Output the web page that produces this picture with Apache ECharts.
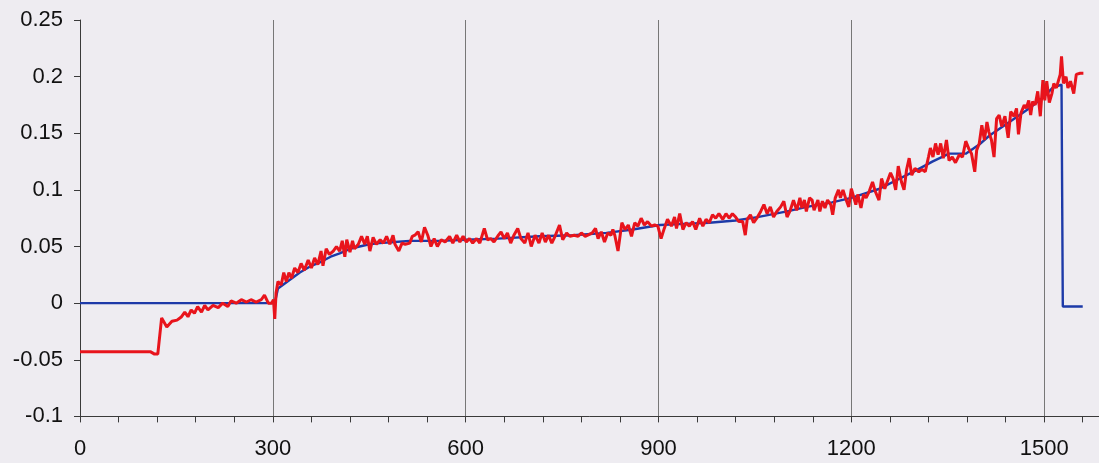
<!DOCTYPE html>
<html><head><meta charset="utf-8">
<script src="https://cdn.jsdelivr.net/npm/echarts@6/dist/echarts.min.js"></script>
<style>html,body{margin:0;padding:0;background:#eeecf1}#c{width:1099px;height:463px}</style>
</head><body><div id="c"></div>
<script>
const redPoints = [[0,-0.043],[110,-0.043],[116,-0.045],[121,-0.045],[127,-0.013],[135,-0.021],[143,-0.016],[151,-0.015],[158,-0.012],[163,-0.008],[168,-0.012],[173,-0.006],[178,-0.009],[183,-0.003],[189,-0.008],[194,-0.002],[199,-0.006],[207,-0.002],[215,-0.004],[222,0.000],[230,-0.003],[235,0.002],[243,0.000],[251,0.003],[259,0.001],[266,0.003],[274,0.001],[282,0.003],[287,0.007],[293,0.000],[298,0.000],[301,0.003],[303,-0.014],[305,0.009],[308,0.019],[313,0.016],[317,0.027],[321,0.019],[325,0.027],[329,0.022],[334,0.031],[339,0.027],[344,0.035],[349,0.029],[355,0.038],[360,0.031],[365,0.040],[370,0.034],[375,0.046],[378,0.033],[383,0.048],[388,0.043],[394,0.046],[399,0.050],[404,0.046],[408,0.055],[412,0.041],[415,0.056],[420,0.045],[424,0.055],[427,0.048],[433,0.052],[438,0.059],[443,0.052],[447,0.059],[451,0.046],[456,0.058],[461,0.052],[467,0.056],[472,0.053],[477,0.059],[482,0.052],[487,0.060],[490,0.052],[496,0.046],[501,0.053],[506,0.052],[513,0.053],[517,0.059],[521,0.060],[526,0.063],[531,0.054],[536,0.067],[541,0.060],[546,0.050],[551,0.057],[556,0.050],[562,0.056],[568,0.054],[575,0.059],[580,0.053],[586,0.060],[591,0.054],[596,0.059],[601,0.054],[606,0.057],[611,0.053],[617,0.057],[622,0.053],[629,0.066],[634,0.056],[639,0.057],[644,0.054],[651,0.060],[655,0.063],[660,0.057],[665,0.062],[670,0.053],[675,0.060],[681,0.066],[686,0.057],[692,0.053],[697,0.062],[702,0.050],[708,0.060],[714,0.053],[719,0.062],[724,0.054],[729,0.060],[734,0.053],[739,0.059],[746,0.069],[751,0.056],[757,0.062],[762,0.059],[769,0.060],[775,0.059],[780,0.062],[786,0.059],[790,0.060],[797,0.062],[802,0.066],[806,0.057],[811,0.063],[816,0.054],[821,0.062],[826,0.060],[829,0.065],[832,0.060],[837,0.046],[843,0.071],[848,0.065],[853,0.069],[858,0.059],[863,0.071],[868,0.068],[873,0.075],[878,0.069],[883,0.072],[889,0.068],[894,0.069],[899,0.068],[904,0.057],[909,0.066],[914,0.074],[920,0.068],[925,0.076],[928,0.066],[933,0.079],[938,0.065],[943,0.071],[948,0.068],[953,0.072],[958,0.065],[964,0.075],[969,0.068],[974,0.074],[979,0.071],[984,0.078],[989,0.075],[994,0.079],[1000,0.074],[1005,0.079],[1010,0.075],[1015,0.079],[1020,0.076],[1025,0.072],[1031,0.072],[1035,0.060],[1038,0.074],[1043,0.078],[1048,0.071],[1054,0.076],[1059,0.081],[1064,0.087],[1069,0.079],[1074,0.085],[1079,0.076],[1084,0.081],[1090,0.085],[1095,0.090],[1100,0.076],[1105,0.082],[1110,0.091],[1115,0.082],[1120,0.093],[1123,0.084],[1127,0.091],[1130,0.081],[1135,0.093],[1139,0.091],[1142,0.082],[1148,0.091],[1151,0.081],[1155,0.090],[1159,0.084],[1163,0.091],[1168,0.087],[1171,0.078],[1175,0.093],[1180,0.100],[1183,0.093],[1187,0.100],[1192,0.091],[1196,0.085],[1200,0.101],[1203,0.100],[1207,0.087],[1210,0.096],[1215,0.084],[1219,0.096],[1223,0.093],[1228,0.099],[1233,0.107],[1237,0.099],[1243,0.091],[1247,0.110],[1252,0.101],[1257,0.109],[1261,0.115],[1265,0.110],[1269,0.100],[1273,0.121],[1278,0.107],[1282,0.100],[1286,0.118],[1290,0.128],[1294,0.113],[1299,0.119],[1305,0.116],[1310,0.118],[1315,0.116],[1320,0.129],[1323,0.137],[1327,0.129],[1331,0.141],[1335,0.131],[1339,0.141],[1343,0.128],[1348,0.144],[1352,0.126],[1357,0.129],[1362,0.124],[1368,0.131],[1373,0.129],[1378,0.143],[1383,0.136],[1387,0.132],[1392,0.116],[1395,0.135],[1399,0.141],[1403,0.157],[1407,0.144],[1411,0.160],[1414,0.151],[1418,0.144],[1422,0.129],[1426,0.163],[1430,0.166],[1434,0.156],[1439,0.165],[1444,0.146],[1448,0.169],[1453,0.165],[1457,0.172],[1460,0.149],[1464,0.168],[1469,0.175],[1472,0.172],[1476,0.179],[1479,0.166],[1482,0.178],[1486,0.175],[1490,0.187],[1494,0.165],[1498,0.197],[1501,0.179],[1504,0.196],[1508,0.177],[1512,0.185],[1515,0.194],[1519,0.190],[1522,0.196],[1525,0.202],[1527,0.218],[1530,0.194],[1534,0.200],[1537,0.190],[1541,0.196],[1546,0.185],[1550,0.202],[1556,0.203],[1561,0.203]];

const bluePoints = [[0,0],[303,0],[308,0.013],[311,0.014],[325,0.020],[342,0.027],[360,0.033],[373,0.036],[390,0.041],[404,0.044],[420,0.048],[435,0.050],[450,0.052],[466,0.053],[490,0.054],[513,0.055],[560,0.055],[600,0.056],[650,0.057],[715,0.059],[767,0.060],[819,0.062],[860,0.065],[902,0.069],[940,0.070],[979,0.071],[1020,0.073],[1054,0.076],[1100,0.081],[1131,0.085],[1170,0.089],[1200,0.093],[1244,0.101],[1275,0.110],[1300,0.117],[1326,0.125],[1352,0.132],[1378,0.132],[1399,0.140],[1415,0.148],[1446,0.160],[1477,0.172],[1497,0.181],[1513,0.190],[1527,0.193],[1529,-0.003],[1560,-0.003]];

const xMin = 0, xMax = 1800, xStep = 300;
const yMin = -0.1, yMax = 0.25, yStep = 0.05;

const chart = echarts.init(document.getElementById('c'), null, {renderer: 'canvas'});
const axisColor = '#3a3a3a';
const labelFont = {color: '#111', fontSize: 22, fontFamily: 'Liberation Sans, Arial, sans-serif'};
chart.setOption({
  backgroundColor: '#eeecf1',
  animation: false,
  grid: {left: 80, top: 20, bottom: 46.6, right: -138, containLabel: false, outerBoundsMode: 'none'},
  xAxis: {
    type: 'value', min: xMin, max: xMax, interval: xStep,
    axisLine: {show: true, onZero: false, lineStyle: {color: axisColor, width: 1}},
    axisTick: {show: true, length: 6, lineStyle: {color: axisColor}},
    minorTick: {show: true, splitNumber: 5, length: 6, lineStyle: {color: axisColor}},
    splitLine: {show: true, lineStyle: {color: '#777', width: 1}},
    minorSplitLine: {show: false},
    axisLabel: Object.assign({margin: 22, formatter: v => String(Math.round(v))}, labelFont)
  },
  yAxis: {
    type: 'value', min: yMin, max: yMax, interval: yStep,
    axisLine: {show: true, onZero: false, lineStyle: {color: axisColor, width: 1}},
    axisTick: {show: true, length: 6, lineStyle: {color: axisColor}},
    splitLine: {show: false},
    axisLabel: Object.assign({margin: 17, formatter: v => String(+v.toFixed(2))}, labelFont)
  },
  series: [
    {type: 'line', data: bluePoints, showSymbol: false, symbol: 'none',
     lineStyle: {color: '#1d3aa8', width: 2.4}, z: 2},
    {type: 'line', data: redPoints, showSymbol: false, symbol: 'none',
     lineStyle: {color: '#e8141c', width: 3}, z: 3}
  ]
});
</script>
</body></html>
